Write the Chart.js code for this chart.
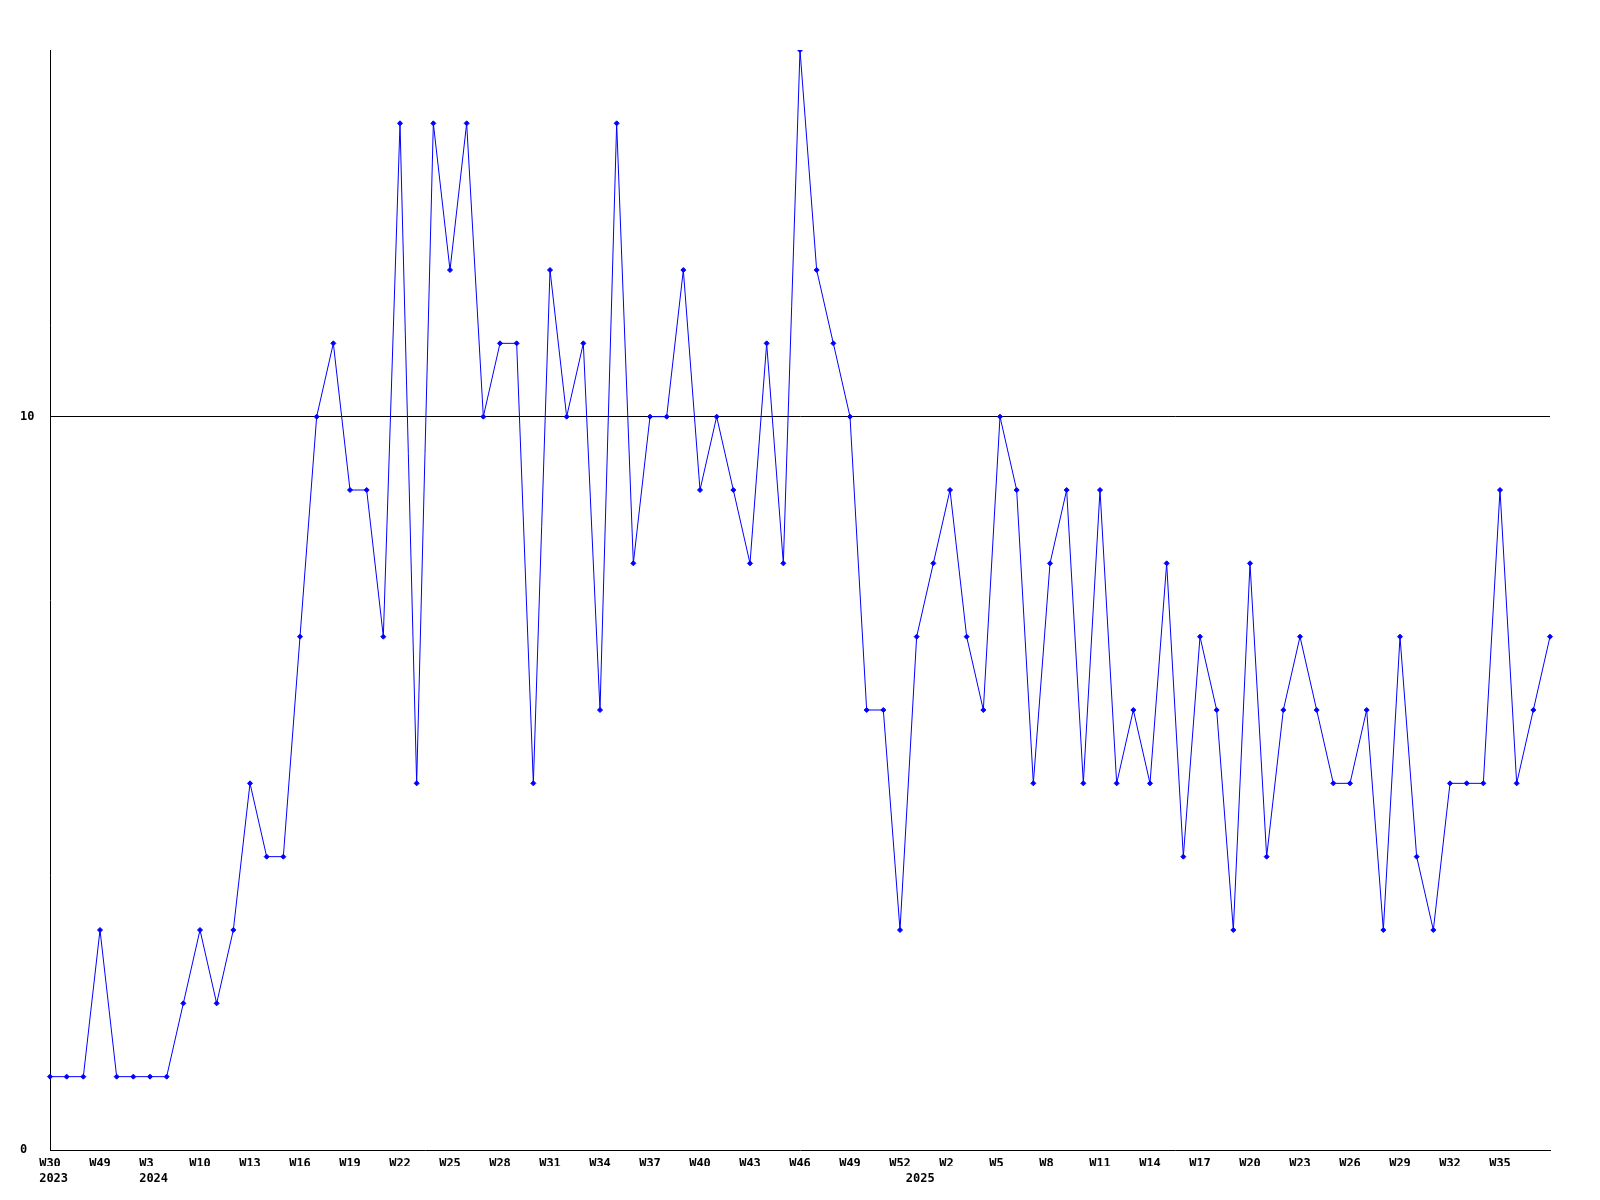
<!DOCTYPE html>
<html lang="en">
<head>
  <meta charset="UTF-8" />
  <title>Weekly count</title>
  <script src="https://cdn.jsdelivr.net/npm/chart.js"></script>
  <style>
    body { margin: 0; background: #fff; }
    .wrap { width: 1600px; height: 1200px; }
  </style>
</head>
<body>
  <div class="wrap">
    <canvas id="weekChart"></canvas>
  </div>

  <script>
  // one label every third week
  const tickLabels = ['W30', 'W49', 'W3', 'W10', 'W13', 'W16', 'W19', 'W22', 'W25', 'W28',
    'W31', 'W34', 'W37', 'W40', 'W43', 'W46', 'W49', 'W52', 'W2', 'W5',
    'W8', 'W11', 'W14', 'W17', 'W20', 'W23', 'W26', 'W29', 'W32', 'W35', ''];
  const yearIndex = [0, 6, 52];
  const yearLabels = ['2023', '2024', '2025'];

  const counts = [1, 1, 1, 3, 1, 1, 1, 1, 2, 3,
    2, 3, 5, 4, 4, 7, 10, 11, 9, 9,
    7, 14, 5, 14, 12, 14, 10, 11, 11, 5,
    12, 10, 11, 6, 14, 8, 10, 10, 12, 9,
    10, 9, 8, 11, 8, 15, 12, 11, 10, 6,
    6, 3, 7, 8, 9, 7, 6, 10, 9, 5,
    8, 9, 5, 9, 5, 6, 5, 8, 4, 7,
    6, 3, 8, 4, 6, 7, 6, 5, 5, 6,
    3, 7, 4, 3, 5, 5, 5, 9, 5, 6,
    7];

  const yTicks = [0, 10];

  const categories = counts.map((c, i) => i % 3 === 0 ? tickLabels[i / 3] : '');

  const tickFont = { family: '"DejaVu Sans Mono", monospace', size: 12, weight: 'bold' };

  new Chart(document.getElementById('weekChart'), {
    type: 'line',
    data: {
      labels: categories,
      datasets: [{
        data: counts,
        borderColor: '#0000ff',
        backgroundColor: '#0000ff',
        borderWidth: 1,
        tension: 0,
        pointStyle: 'rectRot',
        pointRadius: 2.5,
        pointBorderWidth: 1,
        pointBorderColor: '#0000ff',
        pointBackgroundColor: '#0000ff'
      }]
    },
    options: {
      responsive: true,
      maintainAspectRatio: false,
      animation: false,
      layout: { padding: { left: 20, right: 50, top: 50, bottom: 18 } },
      plugins: { legend: { display: false }, tooltip: { enabled: false } },
      scales: {
        x: {
          type: 'category',
          offset: false,
          weight: 0,
          grid: { display: false, drawTicks: false },
          border: { display: true, color: '#000', width: 1 },
          afterFit: s => { s.height = 16; },
          ticks: {
            autoSkip: false,
            maxRotation: 0,
            padding: 7,
            color: '#000',
            font: tickFont,
            callback: (v, i) => {
              const t = categories[i];
              return t ? t.padEnd(3, ' ') : '';
            }
          }
        },
        x2: {
          type: 'category',
          position: 'bottom',
          offset: false,
          weight: 1,
          grid: { display: false, drawTicks: false },
          border: { display: false },
          afterFit: s => { s.height = 16; },
          ticks: {
            autoSkip: false,
            maxRotation: 0,
            padding: 6,
            color: '#000',
            font: tickFont,
            callback: (v, i) => {
              const k = yearIndex.indexOf(i);
              return k >= 0 ? ' ' + yearLabels[k] : '';
            }
          }
        },
        y: {
          min: 0,
          max: 15,
          afterBuildTicks: s => { s.ticks = yTicks.map(v => ({ value: v })); },
          afterFit: s => { s.width = 30; },
          grid: {
            drawTicks: false,
            color: c => c.tick && c.tick.value === 10 ? '#000' : 'rgba(0,0,0,0)',
            lineWidth: 1
          },
          border: { display: true, color: '#000', width: 1 },
          ticks: {
            crossAlign: 'far',
            padding: 0,
            color: '#000',
            font: tickFont
          }
        }
      }
    }
  });
  </script>
</body>
</html>
